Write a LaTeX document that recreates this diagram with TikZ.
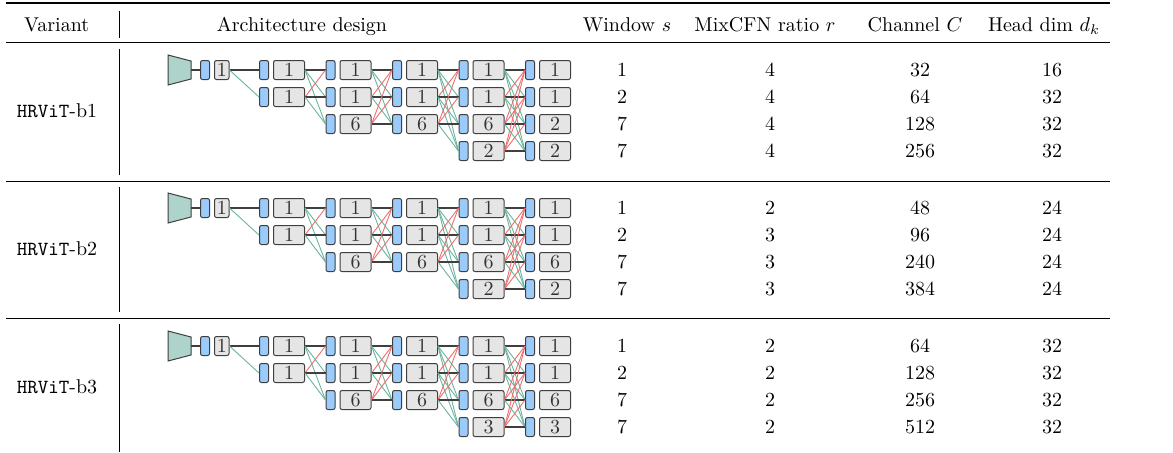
\documentclass[tikz,border=0pt]{standalone}
\usetikzlibrary{positioning}

\definecolor{barblue}{HTML}{9ACBFA}
\definecolor{blockgray}{HTML}{E5E5E5}
\definecolor{embedgreen}{HTML}{AED3CA}
\definecolor{linkteal}{HTML}{6AB4A0}
\definecolor{linkred}{HTML}{EE6E6E}
\definecolor{wire}{HTML}{3F3F3F}

% multi-branch network: #1 tag, #2 y of the top row, #3 block labels per column
\newcommand{\branchnet}[3]{
  \draw[embed] (168,#2-15) -- (191,#2-9) -- (191,#2+9) -- (168,#2+15) -- cycle;
  \coordinate (#1-e) at (191,#2);
  \node[lnbar] (#1-0-1-b) at (205,#2) {};
  \node[stagebox, minimum width=7.25pt, right=2pt of #1-0-1-b] (#1-0-1) {1};
  \draw[flat] (#1-e) -- (#1-0-1-b);
  \foreach \lbls [count=\c] in {#3} {
    \foreach \l [count=\r] in \lbls {
      \node[lnbar] (#1-\c-\r-b) at ({264+66.5*(\c-1)},{#2+27*(\r-1)}) {};
      \node[stagebox, right=2pt of #1-\c-\r-b] (#1-\c-\r) {\l};
    }
  }
  \draw[wire, line width=1pt] (#1-0-1) -- (#1-1-1-b);
  \draw[downlink] (#1-0-1.east) -- (#1-1-2-b.west);
  \foreach \c/\p/\np/\nc in {2/1/2/3, 3/2/3/3, 4/3/3/4, 5/4/4/4}
    \foreach \i in {1,...,\np}
      \foreach \j in {1,...,\nc} {
        \ifnum\i=\j \tikzset{fuse/.style=flat}\else
          \ifnum\i<\j \tikzset{fuse/.style=downlink}\else\tikzset{fuse/.style=uplink}\fi\fi
        \draw[fuse] (#1-\p-\i.east) -- (#1-\c-\j-b.west);
      }
}

% window / ratio / channel / head dim values, one line per branch
\newcommand{\branchstats}[3]{
  \foreach \s/\m/\ch/\hd [count=\k] in {#3} {
    \node (#1-win\k) at (622,{#2+27*(\k-1)}) {\s};
    \node (#1-mix\k) at (770,{#2+27*(\k-1)}) {\m};
    \node (#1-ch\k) at (920,{#2+27*(\k-1)}) {\ch};
    \node (#1-hd\k) at (1052,{#2+27*(\k-1)}) {\hd};
  }
}

\begin{document}
\begin{tikzpicture}[x=0.5pt, y=-0.5pt,
    lnbar/.style={draw=wire, fill=barblue, line width=0.5pt, rounded corners=1pt,
      minimum width=4.5pt, minimum height=9.5pt, inner sep=0pt},
    stagebox/.style={draw=wire, fill=blockgray, line width=0.5pt, rounded corners=1pt,
      minimum width=15.5pt, minimum height=9.5pt, inner sep=0pt, text=black!80},
    embed/.style={draw=wire, fill=embedgreen, line width=0.5pt},
    flat/.style={wire, line width=0.7pt},
    downlink/.style={linkteal, line width=0.45pt},
    uplink/.style={linkred, line width=0.45pt}]
  \useasboundingbox (0,0) rectangle (1173,452);

  % rules
  \draw[line width=0.8pt] (6,3) -- (1110,3);
  \draw[line width=0.5pt] (6,42) -- (1110,42);
  \draw[line width=0.5pt] (6,181) -- (1110,181);
  \draw[line width=0.5pt] (6,318) -- (1110,318);
  \draw[line width=0.4pt] (119,11) -- (119,38);
  \draw[line width=0.4pt] (119,49) -- (119,175);
  \draw[line width=0.4pt] (119,187) -- (119,312);
  \draw[line width=0.4pt] (119,324) -- (119,452);

  % header
  \node[anchor=base west] (hvar) at (17,31.5) {Variant};
  \node[anchor=base] (harch) at (302,31.5) {Architecture design};
  \node[anchor=base] (hwin) at (627,31.5) {Window $s$};
  \node[anchor=base] (hmix) at (765,31.5) {MixCFN ratio $r$};
  \node[anchor=base] (hch) at (915,31.5) {Channel $C$};
  \node[anchor=base] (hhd) at (1044,31.5) {Head dim $d_k$};

  % HRViT-b1
  \node (b1) at (57,110.5) {\texttt{HRViT}-b1};
  \branchnet{b1}{70}{{1,1},{1,1,6},{1,1,6},{1,1,6,2},{1,1,2,2}}
  \branchstats{b1}{70}{1/4/32/16, 2/4/64/32, 7/4/128/32, 7/4/256/32}

  % HRViT-b2
  \node (b2) at (57,248.5) {\texttt{HRViT}-b2};
  \branchnet{b2}{208}{{1,1},{1,1,6},{1,1,6},{1,1,6,2},{1,1,6,2}}
  \branchstats{b2}{208}{1/2/48/24, 2/3/96/24, 7/3/240/24, 7/3/384/24}

  % HRViT-b3
  \node (b3) at (57,386.5) {\texttt{HRViT}-b3};
  \branchnet{b3}{346}{{1,1},{1,1,6},{1,1,6},{1,1,6,3},{1,1,6,3}}
  \branchstats{b3}{346}{1/2/64/32, 2/2/128/32, 7/2/256/32, 7/2/512/32}
\end{tikzpicture}
\end{document}
